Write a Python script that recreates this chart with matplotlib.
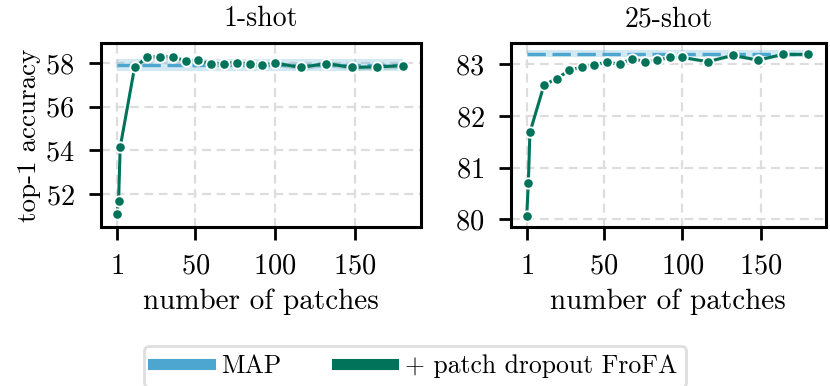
import matplotlib
matplotlib.use('Agg')
import matplotlib.pyplot as plt
from matplotlib.lines import Line2D

plt.rcParams['font.family'] = ['cmr10', 'DejaVu Serif']
plt.rcParams['mathtext.fontset'] = 'cm'
plt.rcParams['axes.formatter.use_mathtext'] = True
plt.rcParams['font.size'] = 20

# number of kept patches
patches = [1, 2, 3, 12, 20, 28, 36, 44, 52, 60, 68, 76, 84, 92, 100, 116, 132, 148, 164, 180]

# 1-shot
frofa_1shot = [51.1, 51.7, 54.15, 57.8, 58.28, 58.28, 58.28, 58.1, 58.13, 57.95,
               57.98, 58.02, 57.95, 57.9, 58.0, 57.8, 57.98, 57.8, 57.83, 57.88]
map_1shot = 57.92
map_1shot_ci = 0.26
frofa_1shot_ci = 0.12

# 25-shot
frofa_25shot = [80.07, 80.7, 81.68, 82.6, 82.72, 82.88, 82.95, 82.99, 83.04, 83.0,
                83.11, 83.05, 83.08, 83.13, 83.13, 83.05, 83.17, 83.08, 83.19, 83.19]
map_25shot = 83.2
map_25shot_ci = 0.065
frofa_25shot_ci = 0.03

titles = ['1-shot', '25-shot']
xticks = [1, 50, 100, 150]

blue = '#4da6d0'
green = '#00735a'

fig = plt.figure(figsize=(8.3, 3.86), dpi=100)
ax1 = fig.add_axes([0.1217, 0.412, 0.385, 0.4766])
ax2 = fig.add_axes([0.6157, 0.412, 0.379, 0.4766])

panels = [
    (ax1, frofa_1shot, map_1shot, map_1shot_ci, frofa_1shot_ci, (50.5, 58.92), [52, 54, 56, 58]),
    (ax2, frofa_25shot, map_25shot, map_25shot_ci, frofa_25shot_ci, (79.85, 83.41), [80, 81, 82, 83]),
]

for (ax, vals, mval, mci, fci, ylim, yticks), title in zip(panels, titles):
    ax.grid(True, linestyle=(0, (4, 2.5)), color='#dddddd', linewidth=1.6)
    ax.set_axisbelow(True)
    mline = [mval] * len(patches)
    ax.fill_between(patches, [v - mci for v in mline], [v + mci for v in mline],
                    color=blue, alpha=0.25, linewidth=0)
    ax.plot(patches, mline, color=blue, linewidth=2.4, dashes=(5.5, 2))
    ax.fill_between(patches, [v - fci for v in vals], [v + fci for v in vals],
                    color=green, alpha=0.2, linewidth=0)
    ax.plot(patches, vals, color=green, linewidth=2.2, marker='o', markersize=7.5,
            markeredgecolor='white', markeredgewidth=1.3)
    ax.set_xlim(-9, 191)
    ax.set_ylim(*ylim)
    ax.set_xticks(xticks)
    ax.set_yticks(yticks)
    ax.set_title(title, fontsize=20, pad=12)
    ax.set_xlabel('number of patches', fontsize=21, labelpad=6)
    ax.tick_params(width=2, length=9, labelsize=20.5, pad=10)
    for s in ax.spines.values():
        s.set_linewidth(2.2)

ax1.set_ylabel('top-1 accuracy', fontsize=19.5, labelpad=3)

handles = [Line2D([], [], color=blue, linewidth=8),
           Line2D([], [], color=green, linewidth=8)]
leg = fig.legend(handles, ['MAP', '+ patch dropout FroFA'], loc='upper center',
                 bbox_to_anchor=(0.5, 0.138), ncol=2, fontsize=18.5, frameon=True,
                 fancybox=True, handlelength=2.2, handletextpad=0.45,
                 columnspacing=2.15, borderpad=0.35)
leg.get_frame().set_edgecolor('#d6d6d6')
leg.get_frame().set_linewidth(2)

fig.savefig('out.png', dpi=100)
